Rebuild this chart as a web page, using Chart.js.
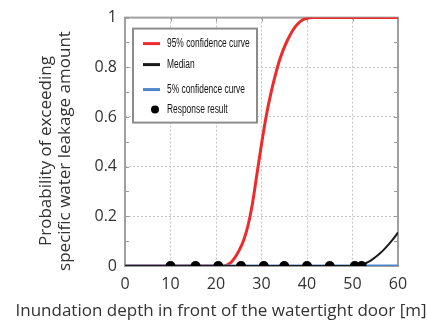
<!DOCTYPE html>
<html>
<head>
<meta charset="utf-8">
<script src="https://cdn.jsdelivr.net/npm/chart.js@4"></script>
<style>
  html, body { margin: 0; padding: 0; background: #fff; }
  #wrap { width: 427px; height: 322px; }
</style>
</head>
<body>
<div id="wrap"><canvas id="myChart" width="427" height="322"></canvas></div>
<script>
// data
const depthUpper = [0, 21.5, 23, 24, 25, 26, 27, 28, 29, 30, 31, 32, 33, 34, 35, 36, 37, 38, 39, 40, 41, 60];
const probUpper = [0, 0, 0.01, 0.03, 0.06, 0.1, 0.16, 0.25, 0.37, 0.49, 0.6, 0.69, 0.765, 0.83, 0.88, 0.92, 0.952, 0.975, 0.99, 0.997, 1, 1];
const depthMedian = [0, 51, 52, 53, 54, 55, 56, 57, 58, 59, 60];
const probMedian = [0, 0, 0.005, 0.012, 0.022, 0.035, 0.05, 0.068, 0.088, 0.11, 0.135];
const depthLower = [0, 60];
const probLower = [0, 0];
const depthResp = [10, 15.5, 20.5, 25.5, 30.5, 35, 40, 45, 50.5, 52];
const probResp = [0, 0, 0, 0, 0, 0, 0, 0, 0, 0];
const seriesNames = ['95% confidence curve', 'Median', '5% confidence curve', 'Response result'];
const xTitle = 'Inundation depth in front of the watertight door [m]';
const yTitle = ['Probability of exceeding', 'specific water leakage amount'];

const pts = (xs, ys) => xs.map((x, i) => ({ x: x, y: ys[i] }));

const data = {
  datasets: [
    {
      label: seriesNames[3],
      data: pts(depthResp, probResp),
      showLine: false,
      pointRadius: 5,
      pointBackgroundColor: '#000',
      pointBorderWidth: 0,
      order: 0
    },
    {
      label: seriesNames[1],
      data: pts(depthMedian, probMedian),
      borderColor: '#1a1a1a',
      borderWidth: 2,
      pointRadius: 0,
      cubicInterpolationMode: 'monotone',
      order: 1
    },
    {
      label: seriesNames[2],
      data: pts(depthLower, probLower),
      borderColor: '#4a86c8',
      borderWidth: 3,
      pointRadius: 0,
      order: 2
    },
    {
      label: seriesNames[0],
      data: pts(depthUpper, probUpper),
      borderColor: '#ee2b2b',
      borderWidth: 3,
      pointRadius: 0,
      cubicInterpolationMode: 'monotone',
      order: 3
    }
  ]
};

// frame, inward ticks, axis titles and the boxed legend
const frameAndLegend = {
  id: 'frameAndLegend',
  beforeDatasetsDraw(chart) {
    const { ctx, chartArea: { top, bottom, left, right }, scales: { x, y } } = chart;
    ctx.save();
    ctx.strokeStyle = '#9a9a9a';
    ctx.lineWidth = 1;
    for (let v = 0.1; v < 1; v += 0.1) {
      const py = Math.round(y.getPixelForValue(v)) + 0.5;
      ctx.beginPath();
      ctx.moveTo(left, py); ctx.lineTo(left + 4, py);
      ctx.moveTo(right, py); ctx.lineTo(right - 4, py);
      ctx.stroke();
    }
    for (let v = 10; v < 60; v += 10) {
      const px = Math.round(x.getPixelForValue(v)) + 0.5;
      ctx.beginPath();
      ctx.moveTo(px, top); ctx.lineTo(px, top + 4);
      ctx.stroke();
    }
    ctx.lineWidth = 2;
    ctx.strokeStyle = '#a0a0a0';
    ctx.strokeRect(left, top, right - left, bottom - top);

    // axis titles, placed like the original (not centred on the plot)
    ctx.font = '17px "Open Sans", sans-serif';
    ctx.fillStyle = '#333';
    ctx.textAlign = 'center';
    ctx.textBaseline = 'middle';
    ctx.fillText(xTitle, 221, 311);
    ctx.save();
    ctx.translate(0, 151);
    ctx.rotate(-Math.PI / 2);
    ctx.fillText(yTitle[0], 0, 46);
    ctx.fillText(yTitle[1], 0, 65);
    ctx.restore();
    ctx.restore();
  },
  afterDatasetsDraw(chart) {
    const { ctx, chartArea: { top, left } } = chart;
    const ds = chart.data.datasets;
    const rows = [
      { d: ds[3], y: 26, kind: 'line' },
      { d: ds[1], y: 47, kind: 'line' },
      { d: ds[2], y: 72, kind: 'line' },
      { d: ds[0], y: 92, kind: 'dot' }
    ];
    ctx.save();
    const bx = left + 8, by = top + 11, bw = 124, bh = 94;
    ctx.fillStyle = '#fff';
    ctx.fillRect(bx, by, bw, bh);
    ctx.strokeStyle = '#8c8c8c';
    ctx.lineWidth = 2;
    ctx.strokeRect(bx, by, bw, bh);
    ctx.font = '12px "Liberation Sans", sans-serif';
    ctx.textBaseline = 'middle';
    ctx.textAlign = 'left';
    rows.forEach(r => {
      const ry = top + r.y;
      if (r.kind === 'line') {
        ctx.strokeStyle = r.d.borderColor;
        ctx.lineWidth = 3;
        ctx.beginPath();
        ctx.moveTo(left + 18, ry);
        ctx.lineTo(left + 35, ry);
        ctx.stroke();
      } else {
        ctx.fillStyle = '#000';
        ctx.beginPath();
        ctx.arc(left + 30, ry, 4, 0, Math.PI * 2);
        ctx.fill();
      }
      // condensed lettering as in the original
      ctx.save();
      ctx.translate(left + 42, ry);
      ctx.scale(0.7, 1);
      ctx.fillStyle = '#111';
      ctx.fillText(r.d.label, 0, 0);
      ctx.restore();
    });
    ctx.restore();
  }
};

const gridColor = (ctx) => (ctx.tick && (ctx.index === 0 || ctx.tick.value === 60 || ctx.tick.value === 1)) ? 'rgba(0,0,0,0)' : '#c4c4c4';

const config = {
  type: 'line',
  data,
  options: {
    responsive: false,
    animation: false,
    layout: { padding: { top: 16, right: 29, left: 0, bottom: 0 } },
    plugins: {
      legend: { display: false },
      tooltip: { enabled: false }
    },
    scales: {
      x: {
        type: 'linear',
        min: 0,
        max: 60,
        ticks: { stepSize: 10, color: '#333', font: { family: '"Open Sans", sans-serif', size: 16 }, padding: 9 },
        grid: { color: gridColor, drawTicks: false, lineWidth: 1 },
        border: { display: false, dash: [2, 2] },
        afterFit(scale) { scale.height = 56; }
      },
      y: {
        min: 0,
        max: 1,
        ticks: {
          stepSize: 0.2,
          color: '#333',
          font: { family: '"Open Sans", sans-serif', size: 16 },
          padding: 8,
          callback: (v) => String(Math.round(v * 10) / 10)
        },
        grid: { color: gridColor, drawTicks: false, lineWidth: 1 },
        border: { display: false, dash: [2, 2] },
        afterFit(scale) { scale.width = 125; }
      }
    }
  },
  plugins: [frameAndLegend]
};

const myChart = new Chart(document.getElementById('myChart'), config);
</script>
</body>
</html>
